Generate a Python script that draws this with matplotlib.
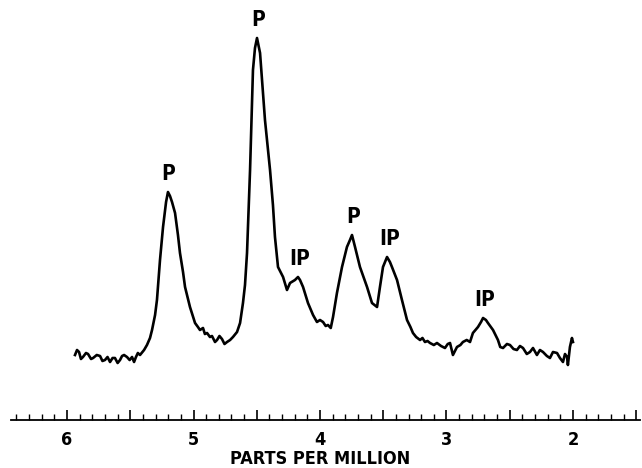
import matplotlib
matplotlib.use("Agg")
import matplotlib.pyplot as plt
from matplotlib.ticker import MultipleLocator, FuncFormatter

# chemical shift (ppm) and signal height (arbitrary units) of the trace
shift_ppm = [
    5.937, 5.921, 5.905, 5.890, 5.874, 5.850, 5.834, 5.810, 5.794, 5.765,
    5.739, 5.720, 5.700, 5.680, 5.660, 5.640, 5.621, 5.600, 5.581, 5.565,
    5.549, 5.526, 5.505, 5.486, 5.470, 5.455, 5.440, 5.423, 5.391, 5.368,
    5.344, 5.328, 5.304, 5.289, 5.265, 5.241, 5.217, 5.202, 5.186, 5.170,
    5.146, 5.123, 5.107, 5.083, 5.067, 5.028, 4.988, 4.965, 4.949, 4.925,
    4.910, 4.893, 4.870, 4.854, 4.830, 4.814, 4.795, 4.775, 4.755, 4.735,
    4.711, 4.688, 4.656, 4.632, 4.609, 4.593, 4.577, 4.553, 4.530, 4.514,
    4.498, 4.474, 4.458, 4.435, 4.395, 4.372, 4.356, 4.332, 4.292, 4.261,
    4.237, 4.198, 4.174, 4.158, 4.134, 4.095, 4.055, 4.024, 4.000, 3.976,
    3.955, 3.937, 3.915, 3.897, 3.866, 3.826, 3.787, 3.763, 3.747, 3.723,
    3.684, 3.628, 3.589, 3.549, 3.526, 3.502, 3.470, 3.447, 3.431, 3.391,
    3.352, 3.312, 3.285, 3.265, 3.240, 3.209, 3.190, 3.170, 3.150, 3.130,
    3.100, 3.075, 3.043, 3.012, 2.990, 2.972, 2.949, 2.917, 2.890, 2.870,
    2.840, 2.814, 2.791, 2.751, 2.727, 2.711, 2.688, 2.672, 2.632, 2.593,
    2.575, 2.553, 2.522, 2.498, 2.470, 2.443, 2.419, 2.395, 2.365, 2.340,
    2.316, 2.285, 2.261, 2.237, 2.206, 2.182, 2.158, 2.126, 2.103, 2.079,
    2.063, 2.047, 2.040, 2.024, 2.008, 2.000,
]
signal = [
    65, 70, 68, 61, 63, 67, 66, 61, 62, 65,
    64, 59, 60, 63, 58, 62, 62, 57, 60, 64,
    65, 63, 60, 63, 58, 63, 67, 65, 70, 75,
    82, 90, 105, 120, 160, 193, 218, 228, 224, 218,
    207, 185, 167, 148, 133, 113, 97, 93, 90, 92,
    86, 87, 83, 84, 78, 80, 84, 81, 76, 78,
    80, 83, 88, 97, 117, 135, 167, 250, 350, 372,
    382, 367, 340, 300, 250, 215, 183, 153, 143, 130,
    137, 140, 143, 140, 133, 117, 105, 98, 100, 98,
    94, 95, 92, 103, 127, 153, 173, 180, 185, 173,
    153, 133, 117, 113, 133, 153, 163, 158, 153, 140,
    120, 100, 93, 87, 83, 80, 82, 78, 79, 77,
    75, 77, 74, 72, 76, 77, 65, 73, 75, 78,
    80, 78, 87, 93, 98, 102, 100, 97, 90, 80,
    73, 72, 76, 75, 71, 70, 74, 72, 66, 68,
    72, 65, 70, 68, 64, 62, 68, 67, 62, 58,
    66, 63, 55, 73, 82, 78,
]

# peak assignments
peak_labels = ["P", "P", "IP", "P", "IP", "IP"]
peak_ppm = [5.20, 4.49, 4.16, 3.74, 3.45, 2.70]
peak_top = [228, 382, 143, 185, 163, 102]

plt.rcParams["font.family"] = ["DejaVu Sans"]

fig = plt.figure(figsize=(6.42, 4.68), dpi=100)
ax = fig.add_axes([11 / 642, 48 / 468, 629 / 642, 420 / 468])

ax.plot(shift_ppm, signal, color="black", lw=1.9, solid_joinstyle="round")

for lab, x, top in zip(peak_labels, peak_ppm, peak_top):
    ax.annotate(lab, (x, top), xytext=(0, 6), textcoords="offset points",
                ha="center", va="bottom", fontsize=15, fontweight="bold",
                fontstretch="condensed")

ax.set_xlim(6.443, 1.470)
ax.set_ylim(0, 420)

for side in ["left", "right", "top"]:
    ax.spines[side].set_visible(False)
ax.spines["bottom"].set_linewidth(1.3)
ax.set_yticks([])

ax.xaxis.set_major_locator(MultipleLocator(0.5))
ax.xaxis.set_minor_locator(MultipleLocator(0.1))
ax.xaxis.set_major_formatter(
    FuncFormatter(lambda v, p: f"{v:.0f}" if abs(v - round(v)) < 1e-6 else ""))
ax.tick_params(axis="x", which="major", direction="in", length=7, width=1.2,
               pad=8, labelsize=13)
ax.tick_params(axis="x", which="minor", direction="in", length=4.5, width=1.0)
for t in ax.get_xticklabels():
    t.set_fontweight("bold")
    t.set_fontstretch("condensed")

fig.text(320 / 642, 1 - 459 / 468, "PARTS PER MILLION", ha="center",
         va="center", fontsize=13, fontweight="bold", fontstretch="condensed")

fig.savefig("out.png", dpi=100)
